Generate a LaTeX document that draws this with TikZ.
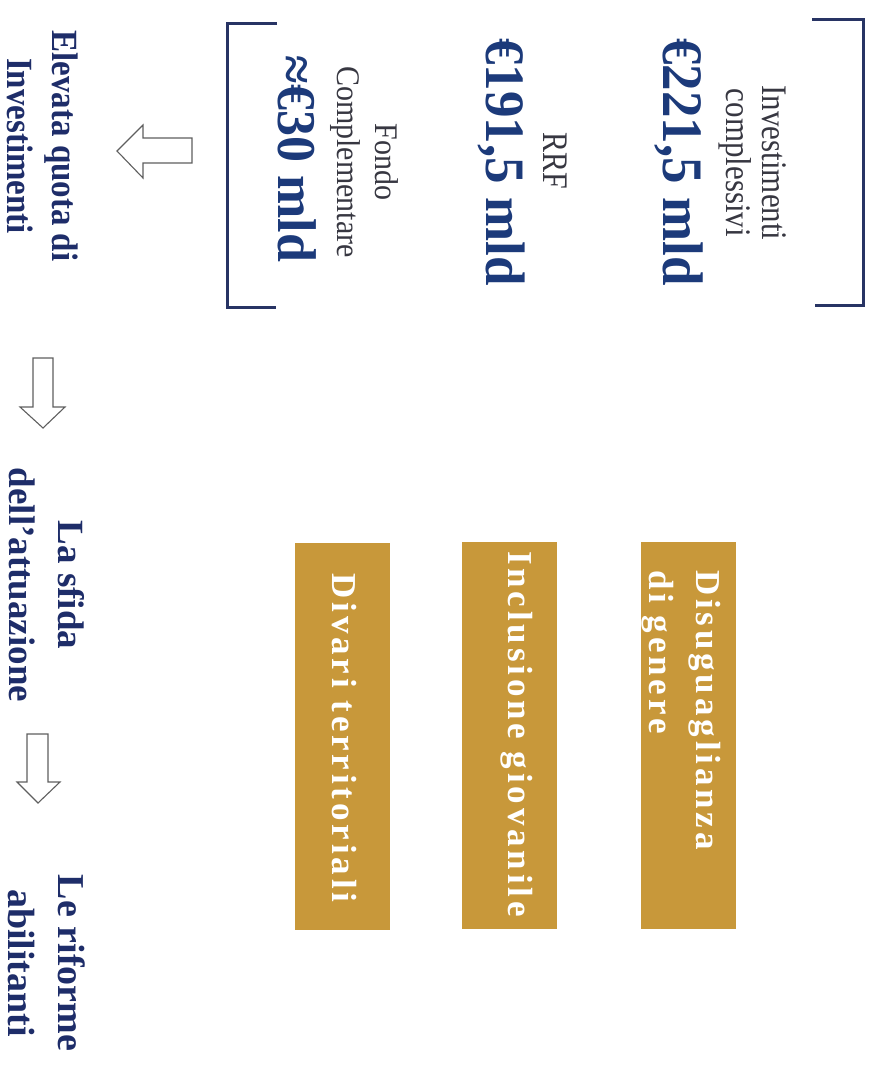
\documentclass[tikz,border=0pt]{standalone}
\usepackage{fontspec}
\setmainfont{Liberation Serif}
\definecolor{navy}{RGB}{30,45,105}
\definecolor{bigblue}{RGB}{28,58,122}
\definecolor{greytxt}{RGB}{55,55,65}
\definecolor{bracketc}{RGB}{40,52,100}
\definecolor{mustard}{RGB}{200,152,58}
\definecolor{arrowgray}{RGB}{95,95,95}
\tikzset{
  vt/.style={xscale=#1, rotate=-90, inner sep=0pt, align=center},
  smalltxt/.style={text=greytxt},
  bigtxt/.style={text=bigblue, font=\bfseries\fontsize{53}{56}\selectfont},
  headtxt/.style={text=navy},
  mbox/.style={rotate=-90, fill=mustard, draw=none, inner sep=0pt, minimum width=387, minimum height=95},
  boxtxt/.style={rotate=-90, inner sep=0pt, text=white, font=\bfseries\fontsize{35}{47}\selectfont\addfontfeatures{LetterSpace=11}},
  bracket/.style={draw=bracketc, line width=3pt},
  blockarrow/.style={draw=arrowgray, line width=1.1pt, fill=white, line join=miter},
}
\begin{document}
\begin{tikzpicture}[x=1pt,y=-1pt]
\useasboundingbox (0,0) rectangle (873,1078);

% brackets
\draw[bracket] (812,20) -- (863,20) -- (863,305) -- (815,305);
\draw[bracket] (277,24) -- (227,24) -- (227,307) -- (276,307);

% top block texts
\node[vt=1.16, smalltxt, font=\fontsize{31}{31}\selectfont] (inv) at (753,163) {Investimenti\\complessivi};
\node[vt=1.08, bigtxt, anchor=base] (v1) at (663,162) {€221,5 mld};
\node[vt=1.2, smalltxt, font=\fontsize{30}{30}\selectfont, anchor=base] (rrf) at (543,161) {RRF};
\node[vt=1.05, bigtxt, anchor=base] (v2) at (486,162) {€191,5 mld};
\node[vt=1.1, smalltxt, font=\fontsize{30}{34.5}\selectfont] (fondo) at (364,162) {Fondo\\Complementare};
\node[vt=1.05, bigtxt, font=\bfseries\fontsize{52}{56}\selectfont, anchor=base] (v3) at (278,159) {≈€30 mld};

% mustard boxes
\node[mbox] (b1) at (342.5,736) {};
\node[mbox] (b2) at (509,735.5) {};
\node[mbox] (b3) at (688,735) {};
\node[boxtxt, anchor=base] (t1) at (332,738) {Divari territoriali};
\node[boxtxt, anchor=base] (t2) at (508,734) {Inclusione giovanile};
\node[boxtxt, align=left, anchor=north west] (t3) at (721,570) {Disuguaglianza\\di genere};

% bottom headings
\node[vt=1.12, headtxt, font=\bfseries\fontsize{33}{40}\selectfont] (h1) at (43,146) {Elevata quota di\\Investimenti};
\node[vt=1, headtxt, font=\bfseries\fontsize{37}{49}\selectfont] (h2) at (47,585) {La sfida\\dell’attuazione};
\node[vt=1, headtxt, font=\bfseries\fontsize{38}{50}\selectfont] (h3) at (47,963) {Le riforme\\abilitanti};

% block arrows
\draw[blockarrow] (117,151) -- (143,125) -- (143,138) -- (192,138) -- (192,163) -- (143,163) -- (143,178) -- cycle;
\draw[blockarrow] (43,428) -- (20,407) -- (33,407) -- (33,358) -- (53,358) -- (53,407) -- (65,407) -- cycle;
\draw[blockarrow] (38,803) -- (17,782) -- (27,782) -- (27,734) -- (48,734) -- (48,782) -- (60,782) -- cycle;
\end{tikzpicture}
\end{document}
